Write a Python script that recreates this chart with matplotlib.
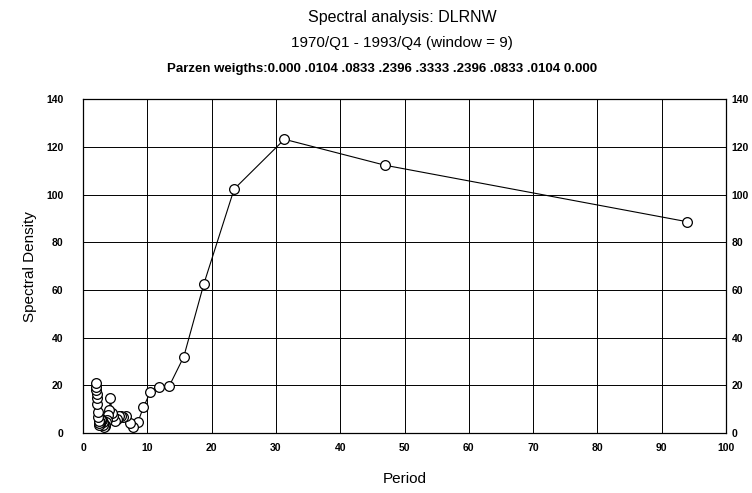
import matplotlib
matplotlib.use('Agg')
import matplotlib.pyplot as plt

plt.rcParams['font.family'] = ['Liberation Sans', 'DejaVu Sans']

# period (quarters) and smoothed spectral density
period = [94.0, 47.0, 31.33, 23.5, 18.8, 15.67, 13.43, 11.75, 10.44, 9.4,
          8.545, 7.83, 7.23, 6.71, 6.27, 5.875, 5.53, 5.22, 4.95, 4.7,
          4.48, 4.27, 4.09, 3.92, 3.76, 3.62, 3.48, 3.36, 3.24, 3.13,
          3.03, 2.94, 2.85, 2.76, 2.69, 2.61, 2.54, 2.47, 2.41, 2.35,
          2.29, 2.24, 2.19, 2.14, 2.09, 2.04, 2.0]
density = [88.6, 112.3, 123.2, 102.3, 62.6, 32.0, 19.8, 19.4, 17.1, 10.8,
           4.7, 2.6, 4.3, 7.3, 6.8, 7.0, 7.1, 6.0, 5.2, 7.0,
           8.5, 14.5, 9.6, 7.5, 5.5, 4.5, 3.5, 3.0, 2.6, 3.5,
           4.5, 5.5, 6.0, 5.5, 4.5, 3.8, 3.5, 4.0, 5.0, 6.8,
           9.0, 12.0, 14.5, 16.5, 18.0, 19.5, 20.8]

xticks = list(range(0, 101, 10))
yticks = list(range(0, 141, 20))

fig = plt.figure(figsize=(7.52, 4.93), dpi=100)
ax = fig.add_axes([0.1104, 0.1217, 0.855, 0.677])

ax.plot(period, density, color='black', lw=0.8, marker='o', markersize=7,
        markerfacecolor='white', markeredgecolor='black', markeredgewidth=0.9,
        zorder=3)

ax.set_xlim(0, 100)
ax.set_ylim(0, 140)
ax.set_xticks(xticks)
ax.set_yticks(yticks)
ax.grid(True, color='black', lw=0.7)
for s in ax.spines.values():
    s.set_linewidth(0.9)

ax.tick_params(axis='both', length=0, labelsize=7.5)
ax.tick_params(axis='y', pad=14, right=True, labelright=True)
ax.tick_params(axis='y', which='major', labelright=False)
ax.tick_params(axis='x', pad=7)
for lab in ax.get_xticklabels() + ax.get_yticklabels():
    lab.set_fontweight('bold')

# right-hand labels sit close to the frame
ax2 = ax.twinx()
ax2.set_ylim(0, 140)
ax2.set_yticks(yticks)
ax2.tick_params(axis='y', length=0, pad=4, labelsize=7.5)
for lab in ax2.get_yticklabels():
    lab.set_fontweight('bold')
for s in ax2.spines.values():
    s.set_visible(False)

ax.set_ylabel('Spectral Density', fontsize=11)
ax.yaxis.set_label_coords(-0.072, 0.5)
ax.set_xlabel('Period', fontsize=11, labelpad=14)

fig.text(0.535, 0.965, 'Spectral analysis: DLRNW', ha='center', va='center', fontsize=11.5)
fig.text(0.535, 0.913, '1970/Q1 - 1993/Q4 (window = 9)', ha='center', va='center', fontsize=11)
fig.text(0.508, 0.86, 'Parzen weigths:0.000 .0104 .0833 .2396 .3333 .2396 .0833 .0104 0.000',
         ha='center', va='center', fontsize=9.5, fontweight='bold')

fig.savefig('out.png', dpi=100)
